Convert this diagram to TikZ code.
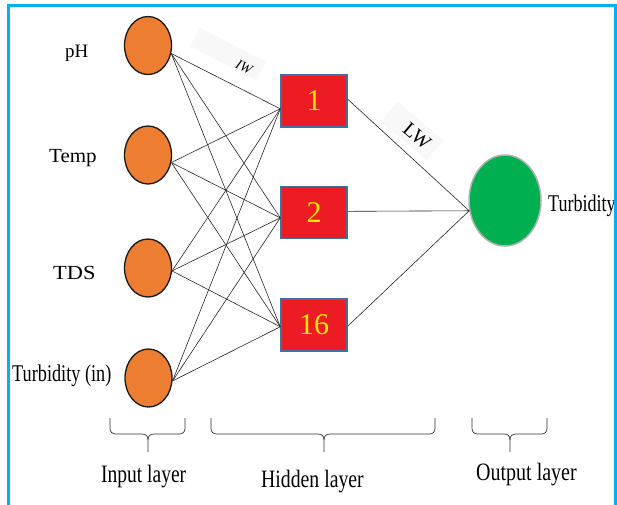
\documentclass[tikz,border=0pt]{standalone}
\usepackage{fontspec}
\setmainfont{Liberation Serif}
\usepackage{graphicx}
\usetikzlibrary{shapes.geometric}
\definecolor{frameblue}{RGB}{0,176,240}
\definecolor{inorange}{RGB}{237,125,49}
\definecolor{hidred}{RGB}{237,28,36}
\definecolor{hidborder}{RGB}{65,113,156}
\definecolor{outgreen}{RGB}{0,176,80}
\definecolor{numyellow}{RGB}{255,232,0}
\definecolor{faintgray}{RGB}{248,248,248}
\newcommand{\lbl}[3]{{\fontsize{#1}{#1}\selectfont\scalebox{#2}[1]{#3}}}
\newcommand{\mybrace}[3]{%
  \draw[bracestyle] (#1,418) -- (#1,428) .. controls (#1,432) and (#1+2,434) .. (#1+6,434) -- (#2-6,434) .. controls (#2-2,434) and (#2,436) .. (#2,440) -- (#2,452);
  \draw[bracestyle] (#2,440) .. controls (#2,436) and (#2+2,434) .. (#2+6,434) -- (#3-6,434) .. controls (#3-2,434) and (#3,432) .. (#3,428) -- (#3,418);}
\begin{document}
\begin{tikzpicture}[x=1pt,y=-1pt,
  inp/.style={ellipse, draw=black!90, line width=1.3pt, fill=inorange, minimum width=47pt, minimum height=58pt, inner sep=0pt},
  hid/.style={rectangle, draw=hidborder, line width=1.5pt, fill=hidred, minimum width=66pt, minimum height=52pt, inner sep=0pt, text=numyellow, font=\fontsize{30}{30}\selectfont},
  outn/.style={ellipse, draw=black!30, line width=1.5pt, fill=outgreen, minimum width=72pt, minimum height=91pt, inner sep=0pt},
  conn/.style={draw=black!85, line width=0.6pt},
  faint/.style={fill=faintgray},
  txt/.style={anchor=base west, inner sep=0pt},
  bracestyle/.style={draw=black!80, line width=0.7pt}]
\useasboundingbox (0,0) rectangle (617,504);
% faint text boxes behind the weight labels
\fill[faint, rotate around={-27:(228,54)}] (191,43.5) rectangle (265,64.5);
\fill[faint, rotate around={-40:(412,131)}] (382,118) rectangle (442,144);
% nodes
\node[inp] (pH) at (148,45.5) {};
\node[inp] (temp) at (148,155) {};
\node[inp] (tds) at (148,268) {};
\node[inp] (turbin) at (148.5,378) {};
\node[hid] (h1) at (314,101) {1};
\node[hid] (h2) at (314,212.5) {2};
\node[hid] (h16) at (314,325) {16};
\node[outn] (outp) at (505,200.5) {};
% connectors
\foreach \i/\a in {pH/-19, temp/-18, tds/-7, turbin/-7}{
  \foreach \h/\b in {h1/193, h2/189, h16/183}{
    \draw[conn] (\i.\a) -- (\h.\b);
  }
}
\draw[conn] (h1.3) -- (outp.196);
\draw[conn] (h2.2) -- (outp.196);
\draw[conn] (h16.-2) -- (outp.196);
% weight labels
\node[rotate=-27, inner sep=0pt] (iw) at (244,67) {\fontsize{14}{14}\selectfont\itshape IW};
\node[rotate=-40, inner sep=0pt] (lw) at (417,136) {\fontsize{20}{20}\selectfont LW};
% input labels
\node[txt] (lph) at (65,57) {\lbl{19}{1}{pH}};
\node[txt] (ltemp) at (49,162.5) {\lbl{20}{1.05}{Temp}};
\node[txt] (ltds) at (53,279) {\lbl{20}{1.12}{TDS}};
\node[txt] (lturbin) at (12,381.5) {\lbl{24}{0.76}{Turbidity (in)}};
\node[txt] (lturbout) at (548,211) {\lbl{24}{0.75}{Turbidity}};
% braces
\mybrace{110}{148}{185}
\mybrace{211}{324}{435}
\mybrace{472}{510}{547}
% layer labels
\node[txt] (linput) at (101,482) {\lbl{25}{0.78}{Input layer}};
\node[txt] (lhidden) at (261,487) {\lbl{25}{0.79}{Hidden layer}};
\node[txt] (loutput) at (476,480) {\lbl{25}{0.8}{Output layer}};
% frame
\draw[frameblue, line width=2.5pt] (8.5,520) -- (8.5,5.5) -- (615.3,5.5) -- (615.3,520);
\end{tikzpicture}
\end{document}
